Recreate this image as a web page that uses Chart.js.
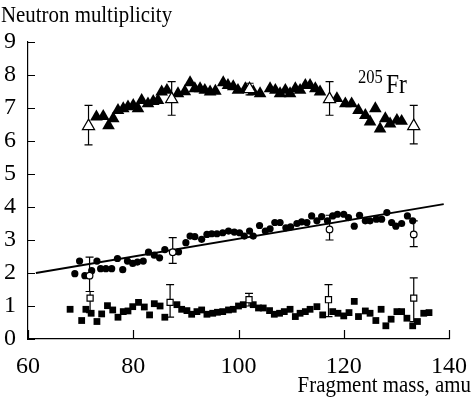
<!DOCTYPE html>
<html>
<head>
<meta charset="utf-8">
<script src="https://cdn.jsdelivr.net/npm/chart.js@4.4.1/dist/chart.umd.min.js"></script>
<style>
  html, body { margin: 0; padding: 0; background: #fff; }
  #wrap { width: 473px; height: 405px; }
</style>
</head>
<body>
<div id="wrap"><canvas id="chartNu" width="473" height="405"></canvas></div>
<script>
// filled triangles (upper series)
var triMass = [73.0, 74.3, 75.3, 76.2, 77.1, 78.1, 79.0, 80.0, 80.9, 81.6, 82.8, 83.8, 84.7, 85.4, 86.4, 88.5, 89.8, 90.8, 91.7, 92.7, 93.6, 94.6, 95.6, 97.1, 98.0, 99.0, 99.9, 101.3, 102.8, 104.1, 106.0, 107.0, 107.9, 108.9, 109.8, 110.8, 111.7, 112.7, 113.6, 114.6, 115.5, 118.7, 120.3, 121.5, 122.8, 124.1, 125.0, 126.0, 126.9, 127.9, 128.8, 130.1, 131.0]
var triNu = [6.73, 6.75, 6.47, 6.68, 6.93, 6.98, 7.04, 7.08, 6.98, 7.23, 7.13, 7.2, 7.23, 7.49, 7.54, 7.44, 7.5, 7.77, 7.59, 7.59, 7.54, 7.49, 7.51, 7.77, 7.69, 7.65, 7.54, 7.59, 7.5, 7.44, 7.59, 7.54, 7.44, 7.54, 7.44, 7.59, 7.54, 7.69, 7.69, 7.59, 7.49, 7.29, 7.13, 7.13, 6.93, 6.78, 6.58, 6.98, 6.37, 6.68, 6.52, 6.63, 6.6]

// filled circles (middle series)
var circMass = [68.9, 69.8, 70.8, 72.1, 73.1, 73.8, 74.8, 75.9, 77.0, 78.0, 78.9, 79.9, 80.8, 81.9, 82.9, 84.0, 85.0, 86.0, 88.6, 90.0, 90.8, 91.7, 93.0, 94.0, 94.9, 95.9, 97.0, 98.1, 99.2, 100.2, 101.1, 102.1, 102.8, 104.0, 105.1, 106.0, 106.9, 107.9, 109.0, 109.9, 111.1, 112.0, 113.0, 113.9, 114.9, 115.8, 116.9, 117.9, 118.8, 120.0, 120.9, 122.0, 123.0, 124.1, 125.0, 126.2, 127.2, 128.2, 129.1, 129.9, 131.0, 132.1, 133.1]
var circNu = [1.98, 2.36, 1.92, 2.07, 2.36, 2.13, 2.13, 2.13, 2.44, 2.1, 2.36, 2.29, 2.33, 2.36, 2.63, 2.54, 2.46, 2.71, 2.64, 2.92, 3.12, 3.1, 3.02, 3.17, 3.19, 3.19, 3.22, 3.27, 3.24, 3.22, 3.12, 3.27, 3.12, 3.44, 3.27, 3.34, 3.53, 3.53, 3.37, 3.4, 3.5, 3.55, 3.53, 3.73, 3.58, 3.71, 3.58, 3.73, 3.78, 3.78, 3.68, 3.42, 3.75, 3.58, 3.58, 3.63, 3.63, 3.83, 3.53, 3.42, 3.5, 3.73, 3.58]

// filled squares (lower series)
var sqMass = [68.0, 70.2, 71.0, 72.0, 73.1, 74.0, 75.1, 76.1, 77.1, 78.1, 79.0, 79.9, 81.0, 82.1, 83.1, 84.0, 85.1, 86.0, 88.3, 89.2, 90.2, 91.1, 92.1, 93.0, 94.0, 95.1, 96.0, 97.0, 98.1, 99.0, 100.0, 100.9, 102.8, 103.8, 104.7, 105.9, 106.8, 107.8, 108.7, 109.8, 110.8, 111.7, 112.7, 113.6, 114.9, 116.0, 117.9, 118.9, 120.0, 121.0, 122.0, 122.8, 124.1, 125.0, 126.1, 127.1, 128.0, 129.0, 130.1, 131.0, 132.0, 133.1, 134.0, 135.2, 136.2]
var sqNu = [0.9, 0.56, 0.9, 0.78, 0.53, 0.76, 1.01, 0.88, 0.66, 0.83, 0.85, 0.98, 1.11, 0.97, 0.73, 1.07, 1.0, 0.66, 1.04, 0.9, 0.86, 0.75, 0.83, 0.88, 0.75, 0.78, 0.81, 0.83, 0.88, 0.9, 1.0, 1.04, 1.04, 0.94, 0.94, 0.86, 0.75, 0.78, 0.83, 0.9, 0.68, 0.78, 0.83, 0.9, 0.98, 0.73, 0.83, 0.78, 0.7, 0.8, 1.14, 0.68, 0.85, 0.78, 0.56, 0.9, 0.4, 0.6, 0.83, 0.83, 0.63, 0.4, 0.53, 0.78, 0.8]

// open markers with error bars
var openTriMass = [71.5, 87.3, 102.1, 117.3, 133.3]
var openTriNu = [6.45, 7.27, 7.57, 7.27, 6.45]
var openTriLo = [5.88, 6.78, 7.4, 6.78, 5.91]
var openTriHi = [7.08, 7.8, 7.75, 7.8, 7.08]

var openCircMass = [71.7, 87.5, 117.3, 133.3]
var openCircNu = [1.92, 2.63, 3.32, 3.17]
var openCircLo = [1.44, 2.29, 3.0, 2.8]
var openCircHi = [2.48, 3.07, 3.75, 3.58]

var openSqMass = [71.8, 87.0, 102.0, 117.1, 133.3]
var openSqNu = [1.24, 1.11, 1.19, 1.19, 1.24]
var openSqLo = [0.8, 0.66, 1.0, 0.68, 0.53]
var openSqHi = [1.44, 1.65, 1.38, 1.65, 1.85]

// straight line through the middle series
var fitMass = [61.5, 139]
var fitNu = [2.0, 4.09]

var xTicks = [60, 80, 100, 120, 140]
var yTicks = [0, 1, 2, 3, 4, 5, 6, 7, 8, 9]

var serif = "'Liberation Serif', 'DejaVu Serif', serif"

function pts(xs, ys) {
    var out = []
    for (let i = 0; i < xs.length; i++) out.push({ x: xs[i], y: ys[i] })
    return out
}

function openSet(xs, ys, lo, hi, shape, r) {
    return {
        data: pts(xs, ys),
        errLo: lo,
        errHi: hi,
        pointStyle: shape,
        pointRadius: r,
        backgroundColor: '#fff',
        borderColor: '#000',
        borderWidth: 1.2,
        showLine: false
    }
}

function filledSet(xs, ys, shape, r) {
    return {
        data: pts(xs, ys),
        pointStyle: shape,
        pointRadius: r,
        backgroundColor: '#000',
        borderColor: '#000',
        borderWidth: 0,
        showLine: false
    }
}

// error bars drawn just before each open-marker dataset
const errorBars = {
    id: 'errorBars',
    beforeDatasetDraw(chart, args) {
        var ds = chart.data.datasets[args.index]
        if (!ds.errLo) return
        var c = chart.ctx, xs = chart.scales.x, ys = chart.scales.y
        c.save()
        c.strokeStyle = '#000'
        c.lineWidth = 1.2
        for (let i = 0; i < ds.data.length; i++) {
            var px = xs.getPixelForValue(ds.data[i].x)
            var y1 = ys.getPixelForValue(ds.errLo[i])
            var y2 = ys.getPixelForValue(ds.errHi[i])
            c.beginPath()
            c.moveTo(px, y1); c.lineTo(px, y2)
            c.moveTo(px - 4, y1); c.lineTo(px + 4, y1)
            c.moveTo(px - 4, y2); c.lineTo(px + 4, y2)
            c.stroke()
        }
        c.restore()
    }
}

// text squeezed a little sideways, like the scanned figure
function narrowText(c, txt, x, y, size, align) {
    var k = 0.87
    c.save()
    c.font = size + 'px ' + serif
    c.textAlign = align
    c.scale(k, 1)
    c.fillText(txt, x / k, y)
    c.restore()
}

// inward ticks and the free text labels
const decor = {
    id: 'decor',
    afterDraw(chart) {
        var c = chart.ctx, xs = chart.scales.x, ys = chart.scales.y
        var a = chart.chartArea
        c.save()
        c.strokeStyle = '#000'
        c.lineWidth = 1.2
        c.beginPath()
        yTicks.forEach(function (v) {
            var py = Math.round(ys.getPixelForValue(v)) + 0.5
            c.moveTo(a.left, py); c.lineTo(a.left + 7, py)
        })
        xTicks.forEach(function (v) {
            var px = Math.round(xs.getPixelForValue(v)) + 0.5
            c.moveTo(px, a.bottom); c.lineTo(px, a.bottom - 9)
        })
        c.stroke()

        c.fillStyle = '#000'
        c.textBaseline = 'alphabetic'
        narrowText(c, 'Neutron multiplicity', 1, 22, 24, 'left')
        narrowText(c, 'Fragment mass, amu', 471, 392, 24, 'right')
        narrowText(c, '205', 358, 83, 19, 'left')
        narrowText(c, 'Fr', 386, 93, 27, 'left')
        c.restore()
    }
}

const ctx = document.getElementById('chartNu')

var myChart = new Chart(ctx, {
    type: 'scatter',
    data: {
        datasets: [
            openSet(openTriMass, openTriNu, openTriLo, openTriHi, 'triangle', 7),
            openSet(openCircMass, openCircNu, openCircLo, openCircHi, 'circle', 3.3),
            openSet(openSqMass, openSqNu, openSqLo, openSqHi, 'rect', 4.3),
            filledSet(triMass, triNu, 'triangle', 7.3),
            filledSet(circMass, circNu, 'circle', 3.6),
            filledSet(sqMass, sqNu, 'rect', 4.8),
            {
                type: 'line',
                data: pts(fitMass, fitNu),
                borderColor: '#000',
                borderWidth: 1.8,
                pointRadius: 0,
                fill: false
            }
        ]
    },
    options: {
        responsive: false,
        animation: false,
        layout: { padding: { top: 42, right: 24, left: 0, bottom: 0 } },
        scales: {
            x: {
                type: 'linear',
                min: 60,
                max: 140,
                afterFit: function (s) { s.height = 66 },
                afterBuildTicks: function (s) { s.ticks = xTicks.map(function (v) { return { value: v } }) },
                grid: { display: false },
                border: { display: true, color: '#000', width: 1.2 },
                ticks: { color: '#000', padding: 5, maxRotation: 0, font: { family: serif, size: 24 } }
            },
            y: {
                min: 0,
                max: 9,
                afterFit: function (s) { s.width = 28 },
                afterBuildTicks: function (s) { s.ticks = yTicks.map(function (v) { return { value: v } }) },
                grid: { display: false },
                border: { display: true, color: '#000', width: 1.2 },
                ticks: { color: '#000', padding: 4, font: { family: serif, size: 24 } }
            }
        },
        plugins: {
            legend: { display: false },
            tooltip: { enabled: false }
        }
    },
    plugins: [errorBars, decor]
});
</script>
</body>
</html>
